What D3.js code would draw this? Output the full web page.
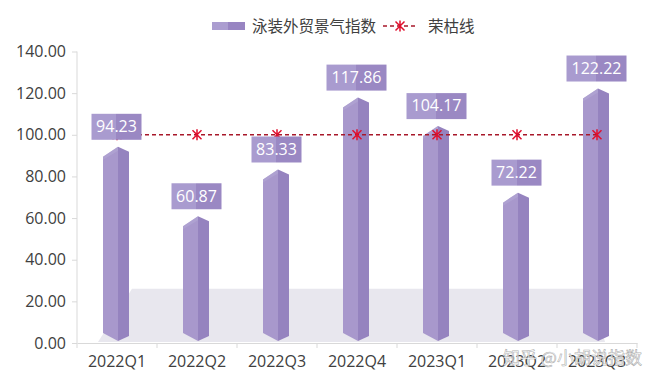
<!DOCTYPE html>
<html lang="zh">
    <head>
        <meta charset="utf-8">
        <title>泳装外贸景气指数</title>
        <script src="https://d3js.org/d3.v7.min.js"></script>
        <style type="text/css">
            body { margin: 0; background: #fff; }
            text { font-family: "Open Sans", "Noto Sans CJK SC", sans-serif; }
        </style>
    </head>
    <body>
        <script>
            // data
            var categories = ["2022Q1", "2022Q2", "2022Q3", "2022Q4", "2023Q1", "2023Q2", "2023Q3"];
            var indexValues = [94.23, 60.87, 83.33, 117.86, 104.17, 72.22, 122.22];
            var boomLine = [100, 100, 100, 100, 100, 100, 100];
            var yTicks = [0, 20, 40, 60, 80, 100, 120, 140];
            var seriesNames = ["泳装外贸景气指数", "荣枯线"];

            // configuration
            var outerWidth = 661;
            var outerHeight = 386;
            var margin = { left: 77, top: 51.5, right: 24, bottom: 43 };

            var svg = d3.select("body")
                        .append("svg")
                        .attr("width", outerWidth)
                        .attr("height", outerHeight);

            var defs = svg.append("defs");
            function twoTone(id, a, b) {
                var g = defs.append("linearGradient").attr("id", id)
                    .attr("x1", "0%").attr("x2", "100%").attr("y1", "0%").attr("y2", "0%");
                g.append("stop").attr("offset", "0%").attr("stop-color", a);
                g.append("stop").attr("offset", "50%").attr("stop-color", a);
                g.append("stop").attr("offset", "50%").attr("stop-color", b);
                g.append("stop").attr("offset", "100%").attr("stop-color", b);
            }
            twoTone("boxFill", "#a99bcf", "#9a88c3");
            twoTone("swatchFill", "#ab9dd0", "#9885c2");

            var xScale = d3.scaleBand()
                .domain(categories)
                .range([margin.left, outerWidth - margin.right]);
            var yScale = d3.scaleLinear()
                .domain([0, 140])
                .range([outerHeight - margin.bottom, margin.top]);

            var y0 = yScale(0);
            var cx = function (i) { return xScale(categories[i]) + xScale.bandwidth() / 2; };

            // 3D floor
            var floorTop = yScale(26);
            svg.append("polygon")
                .attr("points", [
                    [xScale.range()[0] + 55, floorTop],
                    [xScale.range()[1] - 46, floorTop],
                    [xScale.range()[1] - 32, y0 - 1],
                    [xScale.range()[0] + 21, y0 - 1]
                ].join(" "))
                .attr("fill", "#e8e7ee");

            // axes
            var yAxis = d3.axisLeft(yScale)
                .tickValues(yTicks)
                .tickSize(5)
                .tickPadding(6)
                .tickFormat(d3.format(".2f"));
            var gy = svg.append("g")
                .attr("transform", "translate(" + margin.left + ",0)")
                .call(yAxis);
            gy.select(".domain").attr("stroke", "#d9d9d9").attr("d", "M0," + margin.top + "V" + (y0 + 5));
            gy.selectAll(".tick line").attr("stroke", "#d9d9d9");
            gy.selectAll(".tick text").attr("fill", "#404040").style("font-size", "16px");

            var xAxis = d3.axisBottom(xScale).tickSize(0).tickPadding(13);
            var gx = svg.append("g")
                .attr("transform", "translate(0," + y0 + ")")
                .call(xAxis);
            gx.select(".domain").attr("stroke", "#d9d9d9");
            gx.selectAll(".tick text").attr("fill", "#404040").style("font-size", "16px");
            var bounds = categories.slice(1).map(function (d) { return xScale(d); })
                .concat([xScale.range()[1]]);
            gx.selectAll(".sep").data(bounds).enter().append("line")
                .attr("x1", function (d) { return d; })
                .attr("x2", function (d) { return d; })
                .attr("y1", 0).attr("y2", 5)
                .attr("stroke", "#d9d9d9");

            // pentagonal prism bars
            var bars = svg.append("g");
            indexValues.forEach(function (v, i) {
                var c = cx(i), top = yScale(v);
                var L = c - 14, M = c + 1, R = c + 12;
                bars.append("polygon")
                    .attr("points", [[L, top + 10], [M, top], [M, y0 - 2], [L, y0 - 10]].join(" "))
                    .attr("fill", "#a898cc");
                bars.append("polygon")
                    .attr("points", [[M, top], [R, top + 5], [R, y0 - 7], [M, y0 - 2]].join(" "))
                    .attr("fill", "#9583bf");
                bars.append("polygon")
                    .attr("points", [[L, top + 10], [M, top], [M, top + 4], [L, top + 13]].join(" "))
                    .attr("fill", "#b3a6d4").attr("opacity", 0.6);
            });

            // boom line (dashed) with star markers
            var line = d3.line()
                .x(function (d, i) { return cx(i); })
                .y(function (d) { return yScale(d); });
            svg.append("path")
                .datum(boomLine)
                .attr("d", line)
                .attr("fill", "none")
                .attr("stroke", "#a8182a")
                .attr("stroke-width", 1.5)
                .attr("stroke-dasharray", "4,3");

            var star = function (g, x, y) {
                var s = 4.5;
                g.append("path")
                    .attr("d", "M" + (x - s) + "," + (y - s) + "L" + (x + s) + "," + (y + s) +
                               "M" + (x + s) + "," + (y - s) + "L" + (x - s) + "," + (y + s) +
                               "M" + x + "," + (y - s - 1) + "L" + x + "," + (y + s + 1))
                    .attr("stroke", "#e0102e")
                    .attr("stroke-width", 1.5)
                    .attr("fill", "none");
            };
            var markers = svg.append("g");
            boomLine.forEach(function (v, i) { star(markers, cx(i), yScale(v)); });

            // data labels
            var labels = svg.append("g");
            indexValues.forEach(function (v, i) {
                var txt = v.toFixed(2);
                var w = txt.length > 5 ? 60 : 50, h = 26;
                var c = cx(i) - 0.5, top = yScale(v) - 33;
                labels.append("rect")
                    .attr("x", c - w / 2).attr("y", top)
                    .attr("width", w).attr("height", h)
                    .attr("fill", "url(#boxFill)");
                labels.append("text")
                    .attr("x", c).attr("y", top + 12.5)
                    .attr("dy", "0.36em")
                    .attr("text-anchor", "middle")
                    .attr("fill", "#ffffff")
                    .style("font-size", "16px")
                    .text(txt);
            });

            // legend
            var legend = svg.append("g");
            legend.append("rect")
                .attr("x", 212).attr("y", 22).attr("width", 33).attr("height", 8)
                .attr("fill", "url(#swatchFill)");
            legend.append("text")
                .attr("x", 252).attr("y", 27).attr("dy", "0.35em")
                .attr("fill", "#404040").style("font-size", "15.5px")
                .text(seriesNames[0]);
            legend.append("line")
                .attr("x1", 383).attr("x2", 418).attr("y1", 26).attr("y2", 26)
                .attr("stroke", "#a8182a").attr("stroke-width", 1.5)
                .attr("stroke-dasharray", "4,3");
            star(legend, 400, 26);
            legend.append("text")
                .attr("x", 428).attr("y", 27).attr("dy", "0.35em")
                .attr("fill", "#404040").style("font-size", "15.5px")
                .text(seriesNames[1]);

            // watermark
            svg.append("text")
                .attr("x", 503).attr("y", 364)
                .attr("fill", "#ffffff")
                .attr("fill-opacity", 0.85)
                .attr("stroke", "#9a9a9a")
                .attr("stroke-width", 0.6)
                .attr("stroke-opacity", 0.8)
                .style("font-size", "17px")
                .style("font-family", "'Noto Sans CJK SC', sans-serif")
                .text("知乎 @小胡说指数");
        </script>
    </body>
</html>
